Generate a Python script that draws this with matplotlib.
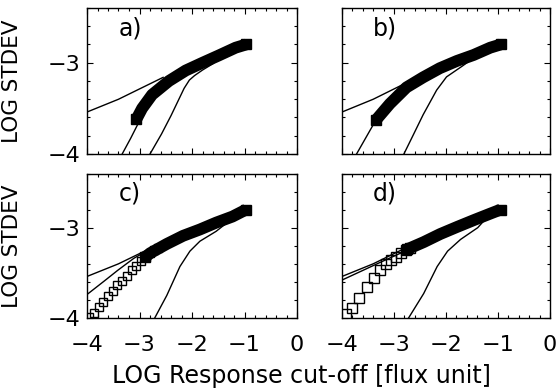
import matplotlib
matplotlib.use("Agg")
import matplotlib.pyplot as plt
from matplotlib.ticker import MultipleLocator

# ---------------- data ----------------
x_ticks = [-4, -3, -2, -1, 0]
y_ticks = [-4, -3]
panel_labels = ["a)", "b)", "c)", "d)"]

# straight reference line (all panels)
line1_x = [-4.0, -3.4, -2.55]
line1_y = [-3.54, -3.40, -3.16]

# panel a
a_band_x = [-3.06, -2.95, -2.76, -2.44, -2.12, -1.80, -1.49, -1.17, -0.97]
a_band_y = [-3.62, -3.50, -3.35, -3.20, -3.085, -3.00, -2.92, -2.835, -2.80]
a_steep_x = [-3.33, -3.17, -3.02]
a_steep_y = [-4.00, -3.83, -3.66]
a_curve_x = [-2.80, -2.58, -2.40, -2.25, -2.15, -2.05, -1.95, -1.80, -1.60, -1.50]
a_curve_y = [-4.00, -3.78, -3.58, -3.40, -3.28, -3.19, -3.14, -3.08, -3.01, -2.96]

# panel b
b_band_x = [-3.35, -3.08, -2.76, -2.44, -2.12, -1.79, -1.47, -1.15, -0.95]
b_band_y = [-3.63, -3.45, -3.27, -3.16, -3.06, -2.98, -2.915, -2.835, -2.80]
b_steep_x = [-3.72, -3.55, -3.38]
b_steep_y = [-4.00, -3.83, -3.66]
b_curve_x = [-2.81, -2.62, -2.44, -2.18, -1.99, -1.67, -1.50]
b_curve_y = [-4.00, -3.78, -3.57, -3.30, -3.155, -3.03, -2.96]

# panel c
c_band_x = [-2.90, -2.79, -2.48, -2.17, -1.85, -1.54, -1.23, -0.97]
c_band_y = [-3.33, -3.28, -3.18, -3.09, -3.02, -2.944, -2.877, -2.80]
c_sq_x = [-3.96, -3.87, -3.78, -3.69, -3.60, -3.51, -3.42, -3.33, -3.24,
          -3.15, -3.06, -2.97, -2.88, -2.80, -2.72, -2.65]
c_sq_y = [-3.99, -3.94, -3.88, -3.82, -3.76, -3.70, -3.64, -3.585, -3.53,
          -3.47, -3.42, -3.37, -3.325, -3.28, -3.245, -3.22]
c_line2_x = [-4.0, -3.67, -3.41, -3.11, -2.90]
c_line2_y = [-3.74, -3.59, -3.47, -3.34, -3.27]
c_curve_x = [-2.71, -2.48, -2.23, -2.04, -1.85, -1.54, -1.30]
c_curve_y = [-4.00, -3.75, -3.43, -3.26, -3.15, -3.04, -2.93]

# panel d
d_band_x = [-2.75, -2.43, -2.11, -1.78, -1.46, -1.13, -0.95]
d_band_y = [-3.24, -3.16, -3.07, -2.99, -2.915, -2.84, -2.80]
d_sq_x = [-3.93, -3.80, -3.67, -3.52, -3.39, -3.26, -3.15, -3.05, -2.96,
          -2.86, -2.77, -2.69]
d_sq_y = [-3.96, -3.89, -3.78, -3.66, -3.56, -3.47, -3.40, -3.355, -3.32,
          -3.28, -3.25, -3.22]
d_line2_x = [-4.0, -3.25, -2.75]
d_line2_y = [-3.58, -3.38, -3.25]
d_curve_x = [-2.72, -2.43, -2.17, -1.97, -1.72, -1.39, -1.25]
d_curve_y = [-4.00, -3.73, -3.43, -3.26, -3.13, -3.00, -2.91]

# ---------------- figure ----------------
plt.rcParams["font.family"] = ["DejaVu Sans"]
W, H = 557, 392
fig = plt.figure(figsize=(W / 100, H / 100), dpi=100)


def box(l, t, r, b):
    return [l / W, 1 - b / H, (r - l) / W, (b - t) / H]


ax_a = fig.add_axes(box(87, 8, 297, 154))
ax_b = fig.add_axes(box(342, 8, 550, 154))
ax_c = fig.add_axes(box(87, 173.5, 297, 318))
ax_d = fig.add_axes(box(342, 173.5, 550, 318))
axes = [ax_a, ax_b, ax_c, ax_d]

LW = 1.0
BAND_W = 8.5


def draw_band(ax, bx, by):
    ax.plot(bx, by, color="k", lw=BAND_W, solid_capstyle="butt",
            solid_joinstyle="round", zorder=3)
    ax.plot(bx, by, ls="none", marker="s", ms=7.5, color="k",
            markevery=[0, len(bx) - 1], zorder=3)


# a
ax_a.plot(line1_x, line1_y, color="k", lw=LW)
ax_a.plot(a_steep_x, a_steep_y, color="k", lw=LW)
ax_a.plot(a_curve_x, a_curve_y, color="k", lw=LW)
draw_band(ax_a, a_band_x, a_band_y)

# b
ax_b.plot(line1_x, line1_y, color="k", lw=LW)
ax_b.plot(b_steep_x, b_steep_y, color="k", lw=LW)
ax_b.plot(b_curve_x, b_curve_y, color="k", lw=LW)
draw_band(ax_b, b_band_x, b_band_y)

# c
ax_c.plot(line1_x, line1_y, color="k", lw=LW)
ax_c.plot(c_line2_x, c_line2_y, color="k", lw=LW)
ax_c.plot(c_curve_x, c_curve_y, color="k", lw=LW)
ax_c.plot(c_sq_x, c_sq_y, ls="none", marker="s", ms=6.0, mfc="none",
          mec="k", mew=1.0, zorder=3)
draw_band(ax_c, c_band_x, c_band_y)

# d
ax_d.plot(line1_x, line1_y, color="k", lw=LW)
ax_d.plot(d_line2_x, d_line2_y, color="k", lw=LW)
ax_d.plot(d_curve_x, d_curve_y, color="k", lw=LW)
ax_d.plot(d_sq_x, d_sq_y, ls="none", marker="s", ms=6.8, mfc="none",
          mec="k", mew=1.0, zorder=3)
draw_band(ax_d, d_band_x, d_band_y)

for i, ax in enumerate(axes):
    ax.set_xlim(-4, 0)
    ax.set_ylim(-4, -2.4)
    ax.set_xticks(x_ticks)
    ax.set_yticks(y_ticks)
    ax.xaxis.set_minor_locator(MultipleLocator(0.2))
    ax.yaxis.set_minor_locator(MultipleLocator(0.2))
    ax.tick_params(which="both", direction="in", top=True, right=True,
                   width=0.8, labelsize=16)
    ax.tick_params(which="major", length=4)
    ax.tick_params(which="minor", length=2)
    ax.tick_params(axis="x", pad=12)
    ax.tick_params(axis="y", pad=5)
    for s in ax.spines.values():
        s.set_linewidth(1.0)
    if i < 2:
        ax.tick_params(axis="x", labelbottom=False)
    if i % 2 == 1:
        ax.tick_params(axis="y", labelleft=False)
    else:
        ax.set_ylabel("LOG STDEV", fontsize=15.5)
        ax.yaxis.set_label_coords(-0.31, 0.5)
    ax.text(-3.40, -2.70, panel_labels[i], fontsize=17, ha="left",
            va="baseline")

fig.text(301 / W, 1 - 383 / H, "LOG Response cut-off [flux unit]",
         fontsize=17, ha="center", va="baseline")

fig.savefig("out.png", dpi=100)
